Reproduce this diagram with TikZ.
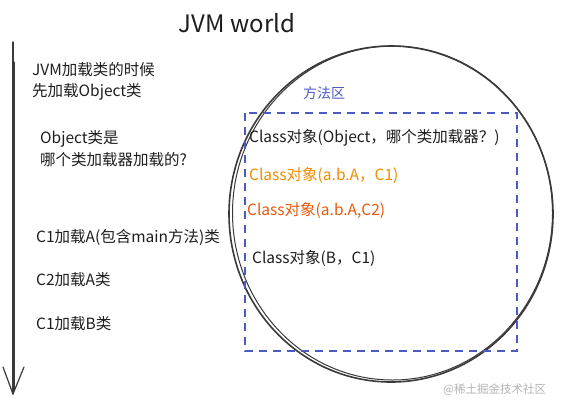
\documentclass[tikz,border=0pt]{standalone}
\usepackage{fontspec}
\setmainfont{Noto Sans CJK SC}
\usetikzlibrary{calc}
\definecolor{ink}{HTML}{1E1E1E}
\definecolor{circ}{HTML}{3A3A3A}
\definecolor{areablue}{HTML}{4A5CC4}
\definecolor{amber}{HTML}{F08C00}
\definecolor{redorange}{HTML}{E8590C}
\definecolor{wm}{HTML}{B4B4B4}
\begin{document}
\begin{tikzpicture}[x=1pt,y=-1pt,
  txt/.style={anchor=west,inner sep=0pt,font=\fontsize{15.5}{17}\selectfont,text=ink},
  ttl/.style={inner sep=0pt,font=\fontsize{24}{27}\selectfont,text=ink},
  areabox/.style={draw=areablue,line width=1.2pt,dash pattern=on 8pt off 6pt},
  roughline/.style={draw=circ,line width=1.6pt,line cap=round,line join=round}]
\useasboundingbox[fill=white] (0,0) rectangle (561,408);
% title
\node[ttl] (title) at (237,23) {JVM world};
% timeline arrow
\coordinate (tl0) at (13,42);
\coordinate (tl1) at (13,394);
\coordinate (tlL) at (3,367);
\coordinate (tlR) at (24,367);
\draw[roughline,line width=1.2pt] (tl0) -- (tl1);
\draw[roughline,line width=0.7pt] ($(tl0)+(1.2,20)$) -- ($(tl1)+(1.2,-4)$);
\draw[roughline,line width=1.2pt] (tlL) -- (tl1) -- (tlR);
% left texts
\node[txt] (t1) at (32,70) {JVM加载类的时候};
\node[txt] (t2) at (32,92) {先加载Object类};
\node[txt] (t3) at (40,139) {Object类是};
\node[txt] (t4) at (40,160) {哪个类加载器加载的?};
\node[txt] (t5) at (36,237) {C1加载A(包含main方法)类};
\node[txt] (t6) at (36,280) {C2加载A类};
\node[txt] (t7) at (36,324) {C1加载B类};
% JVM circle (hand drawn look)
\coordinate (cc) at (391,214);
\draw[roughline] (cc) ellipse [x radius=162, y radius=168];
\draw[roughline,line width=1pt] ($(cc)+(1.5,-1)$) ellipse [x radius=160, y radius=167];
% method area
\node[inner sep=0pt,font=\fontsize{14}{16}\selectfont,text=areablue] (area) at (324,93) {方法区};
\coordinate (ra) at (245,113);
\coordinate (rb) at (517,351);
\draw[areabox] (ra) rectangle (rb);
\node[txt] (c1) at (249,138) {Class对象(Object，哪个类加载器？)};
\node[txt,text=amber] (c2) at (249,175) {Class对象(a.b.A，C1)};
\node[txt,text=redorange] (c3) at (247,210) {Class对象(a.b.A,C2)};
\node[txt] (c4) at (252,258) {Class对象(B，C1)};
% watermark
\node[anchor=west,inner sep=0pt,font=\fontsize{11.5}{13}\selectfont,text=wm] (wmk) at (443,390) {@稀土掘金技术社区};
\end{tikzpicture}
\end{document}
